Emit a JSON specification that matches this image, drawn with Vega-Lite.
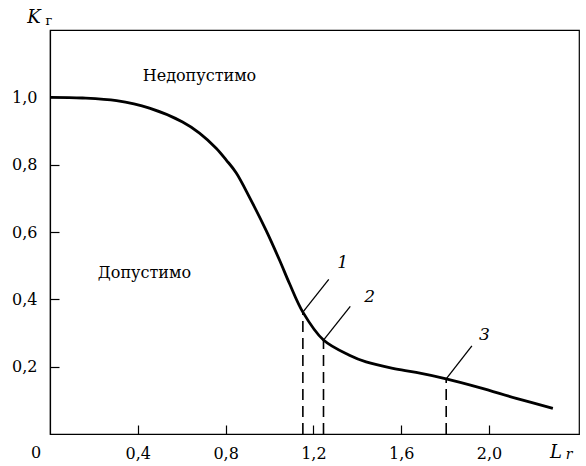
{
  "$schema": "https://vega.github.io/schema/vega-lite/v6.json",
  "width": 529,
  "height": 404,
  "autosize": {"type": "none"},
  "padding": {"left": 50, "top": 30, "right": 7, "bottom": 32},
  "background": "white",
  "config": {
    "view": {"stroke": "black", "strokeWidth": 1.2},
    "font": "DejaVu Serif",
    "text": {"font": "DejaVu Serif", "color": "black"},
    "axis": {
      "domainColor": "black",
      "domainWidth": 1.2,
      "tickColor": "black",
      "tickWidth": 1.2,
      "tickSize": -9,
      "labelFont": "DejaVu Serif",
      "labelFontSize": 16,
      "labelColor": "black",
      "grid": false,
      "title": null
    }
  },
  "datasets": {
    "curve": [
      {"lr": 0.0, "kr": 1.0},
      {"lr": 0.148, "kr": 0.998},
      {"lr": 0.303, "kr": 0.99},
      {"lr": 0.453, "kr": 0.968},
      {"lr": 0.604, "kr": 0.927},
      {"lr": 0.681, "kr": 0.894},
      {"lr": 0.757, "kr": 0.849},
      {"lr": 0.804, "kr": 0.813},
      {"lr": 0.848, "kr": 0.776},
      {"lr": 0.909, "kr": 0.703},
      {"lr": 0.985, "kr": 0.604},
      {"lr": 1.046, "kr": 0.516},
      {"lr": 1.091, "kr": 0.447},
      {"lr": 1.152, "kr": 0.362},
      {"lr": 1.246, "kr": 0.279},
      {"lr": 1.364, "kr": 0.234},
      {"lr": 1.44, "kr": 0.214},
      {"lr": 1.562, "kr": 0.195},
      {"lr": 1.668, "kr": 0.183},
      {"lr": 1.805, "kr": 0.164},
      {"lr": 1.957, "kr": 0.138},
      {"lr": 2.124, "kr": 0.106},
      {"lr": 2.291, "kr": 0.076}
    ],
    "points": [
      {"n": "1", "lr": 1.152, "kr": 0.362, "lr2": 1.27, "kr2": 0.459, "tl": 1.333, "tk": 0.507},
      {"n": "2", "lr": 1.246, "kr": 0.279, "lr2": 1.368, "kr2": 0.379, "tl": 1.456, "tk": 0.406},
      {"n": "3", "lr": 1.805, "kr": 0.164, "lr2": 1.922, "kr2": 0.262, "tl": 1.979, "tk": 0.293}
    ],
    "regions": [
      {"label": "Недопустимо", "lr": 0.681, "kr": 1.062},
      {"label": "Допустимо", "lr": 0.43, "kr": 0.477}
    ],
    "origin": [{"label": "0", "lr": 0, "kr": 0}],
    "corner": [{"lr": 0, "kr": 1.2, "xend": 2.41}]
  },
  "encoding": {
    "x": {
      "field": "lr",
      "type": "quantitative",
      "scale": {"domain": [0, 2.41], "nice": false, "zero": false},
      "axis": {
        "values": [0.4, 0.8, 1.2, 1.6, 2.0],
        "labelExpr": "replace(format(datum.value, '.1f'), '.', ',')",
        "labelPadding": 20
      }
    },
    "y": {
      "field": "kr",
      "type": "quantitative",
      "scale": {"domain": [0, 1.2], "nice": false, "zero": false},
      "axis": {
        "values": [0.2, 0.4, 0.6, 0.8, 1.0],
        "labelExpr": "replace(format(datum.value, '.1f'), '.', ',')",
        "labelPadding": 22
      }
    }
  },
  "layer": [
    {
      "data": {"name": "curve"},
      "mark": {"type": "line", "color": "black", "strokeWidth": 2.8, "interpolate": "catmull-rom"}
    },
    {
      "data": {"name": "points"},
      "mark": {"type": "rule", "color": "black", "strokeWidth": 1.6, "strokeDash": [11, 6]},
      "encoding": {"y": {"datum": 0, "type": "quantitative"}, "y2": {"field": "kr"}}
    },
    {
      "data": {"name": "points"},
      "mark": {"type": "rule", "color": "black", "strokeWidth": 1.3},
      "encoding": {"x2": {"field": "lr2"}, "y2": {"field": "kr2"}}
    },
    {
      "data": {"name": "points"},
      "mark": {"type": "text", "fontStyle": "italic", "fontSize": 17},
      "encoding": {
        "x": {"field": "tl", "type": "quantitative"},
        "y": {"field": "tk", "type": "quantitative"},
        "text": {"field": "n"}
      }
    },
    {
      "data": {"name": "regions"},
      "mark": {"type": "text", "fontSize": 16},
      "encoding": {"text": {"field": "label"}}
    },
    {
      "data": {"name": "origin"},
      "mark": {"type": "text", "fontSize": 16, "dx": -14, "dy": 19},
      "encoding": {"text": {"field": "label"}}
    },
    {
      "data": {"name": "corner"},
      "mark": {"type": "text", "fontStyle": "italic", "fontSize": 18, "dx": -16, "dy": -12, "text": "K"}
    },
    {
      "data": {"name": "corner"},
      "mark": {"type": "text", "fontSize": 13, "dx": -1, "dy": -9, "text": "г"}
    },
    {
      "data": {"name": "corner"},
      "mark": {"type": "text", "fontStyle": "italic", "fontSize": 18, "dx": -23, "dy": 19, "text": "L"},
      "encoding": {"x": {"field": "xend", "type": "quantitative"}, "y": {"datum": 0, "type": "quantitative"}}
    },
    {
      "data": {"name": "corner"},
      "mark": {"type": "text", "fontStyle": "italic", "fontSize": 14, "dx": -10, "dy": 21, "text": "r"},
      "encoding": {"x": {"field": "xend", "type": "quantitative"}, "y": {"datum": 0, "type": "quantitative"}}
    }
  ]
}
